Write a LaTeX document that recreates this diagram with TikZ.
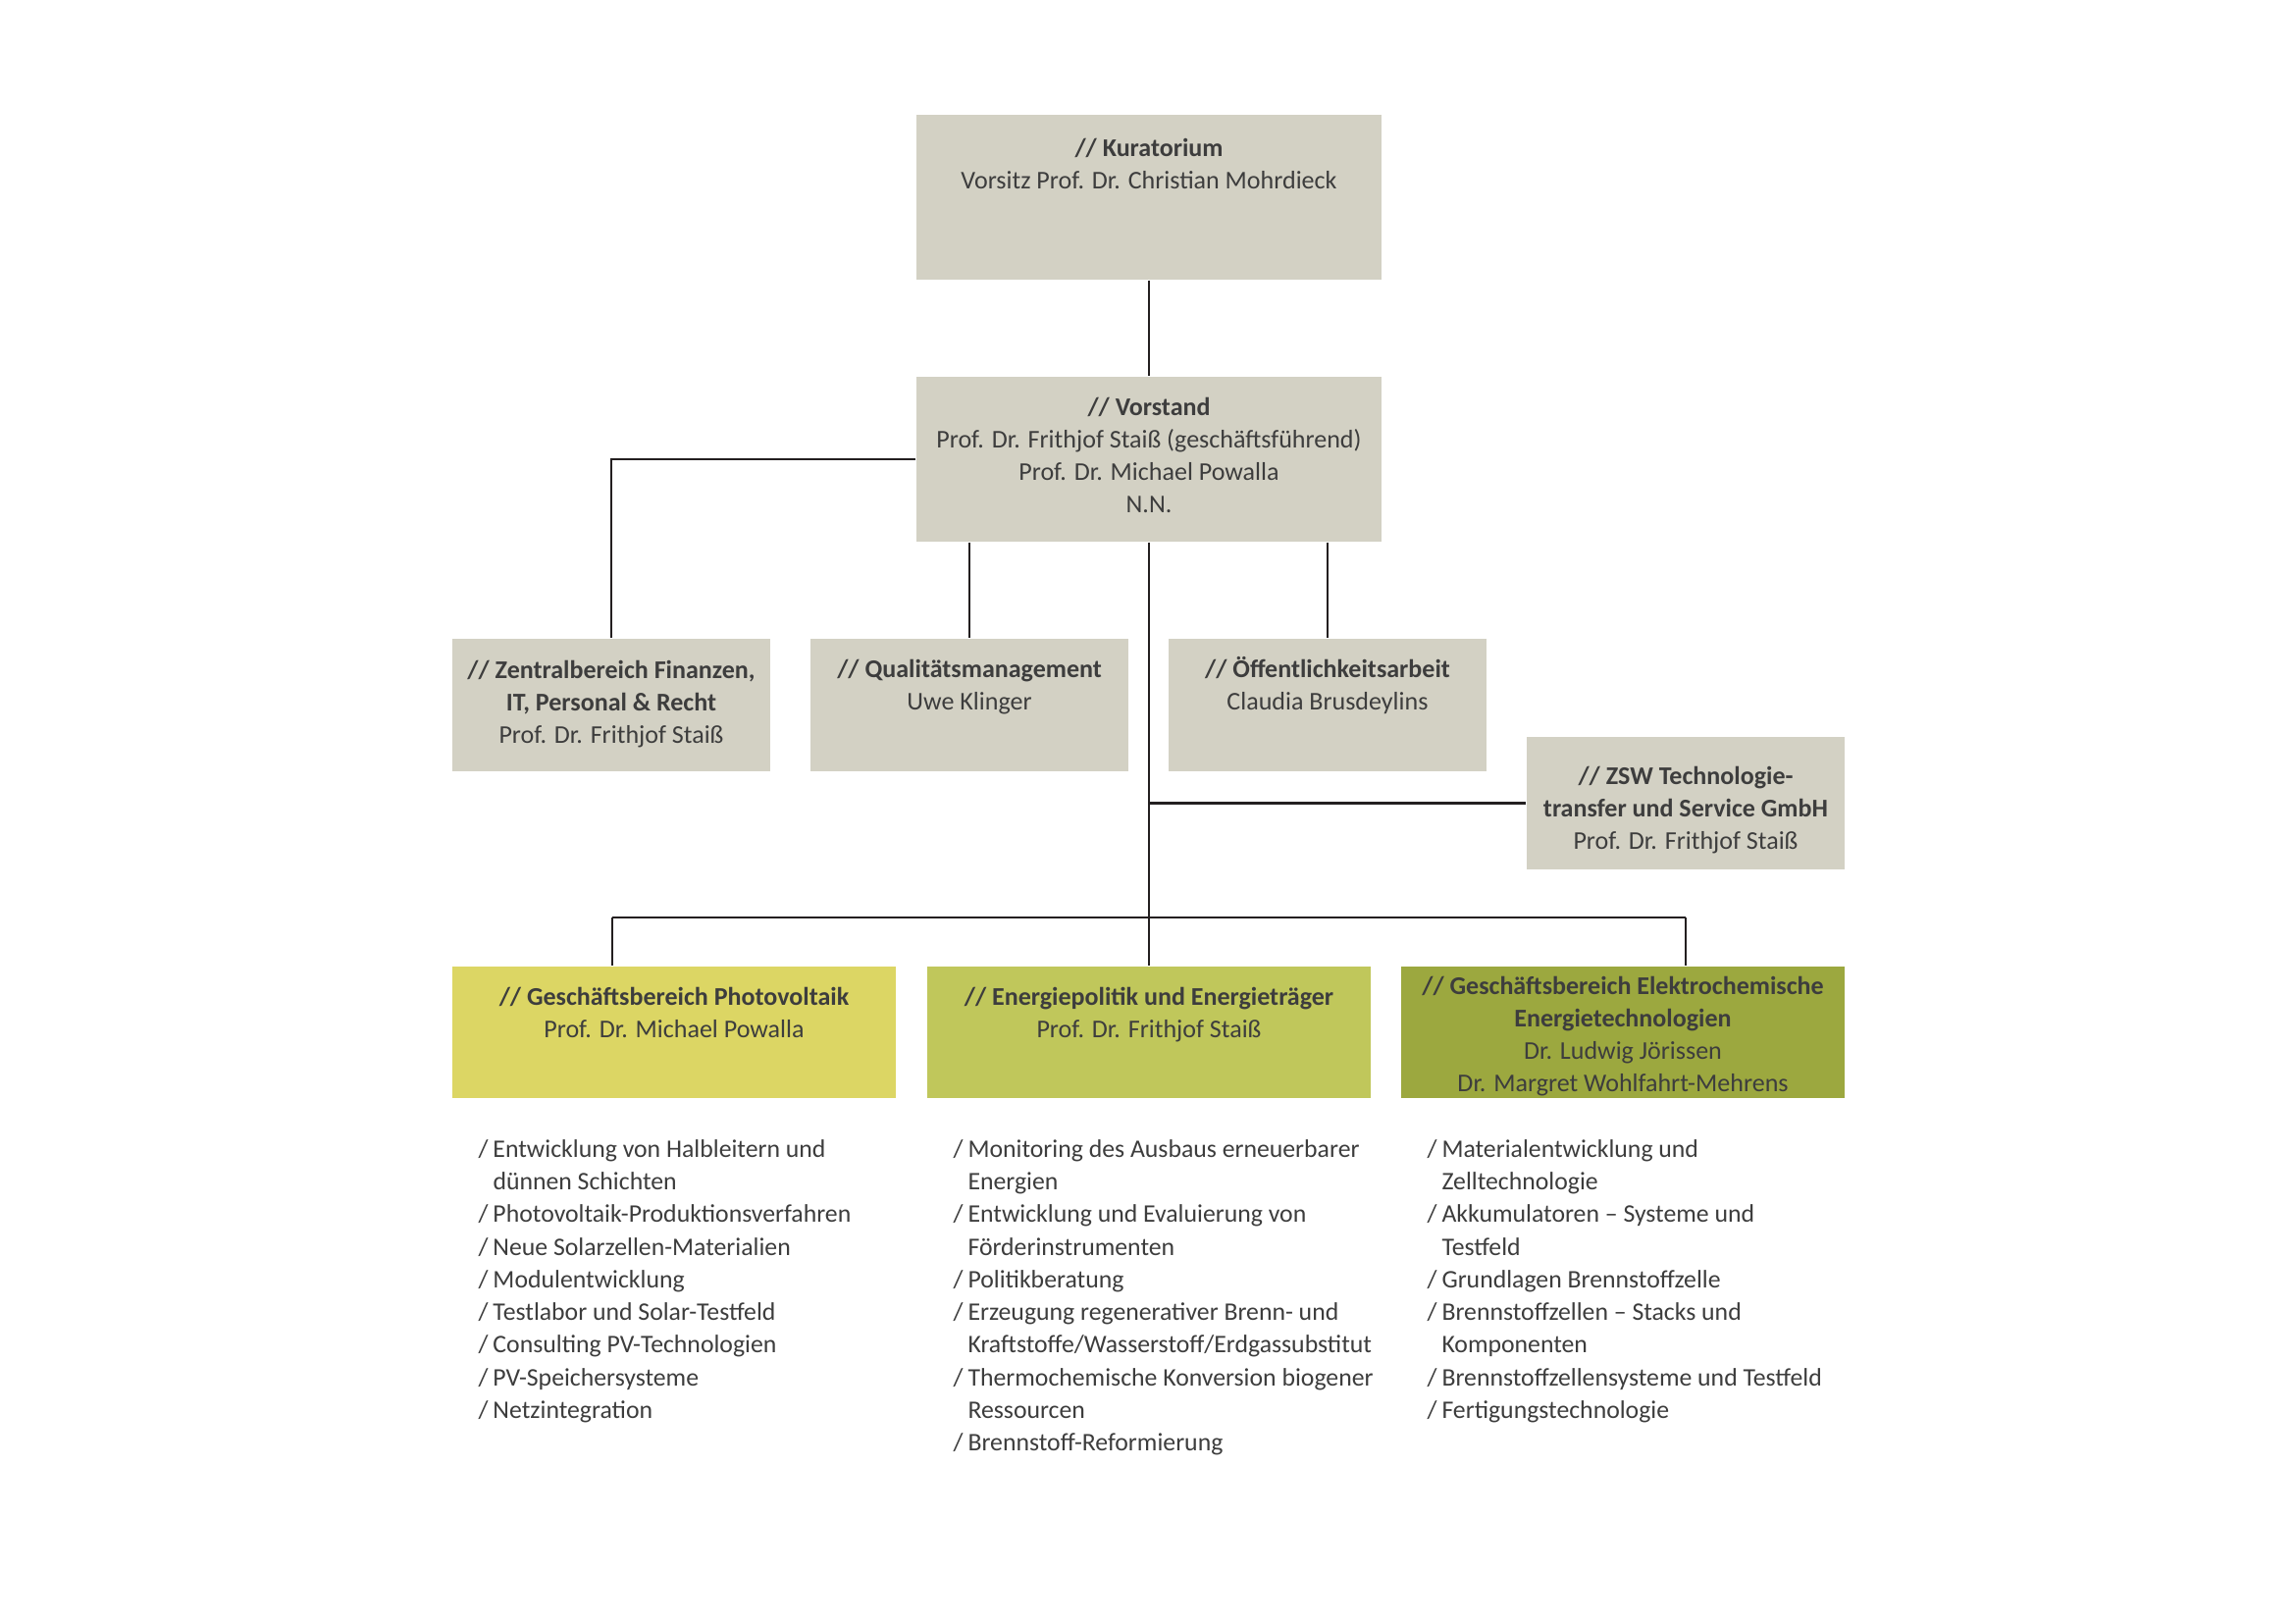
\documentclass[tikz,border=0pt]{standalone}
\usepackage{fontspec}
\setmainfont{Carlito}
\usetikzlibrary{fit}
\definecolor{boxgray}{HTML}{D3D1C4}
\definecolor{pvyellow}{HTML}{DCD664}
\definecolor{enegreen}{HTML}{C0C75B}
\definecolor{eleolive}{HTML}{9CA83F}
\definecolor{textgray}{HTML}{3D3D3D}
\definecolor{linecol}{HTML}{231F20}
\newcommand{\itm}{\makebox[5.4pt][l]{/}}
\newcommand{\ind}{\hspace*{5.4pt}}
\begin{document}
\begin{tikzpicture}[x=0.012698cm,y=-0.012698cm,
  box/.style={draw=none,inner sep=0pt,rectangle},
  txt/.style={inner sep=0pt,align=center,text=textgray,font=\fontsize{9.4}{12}\selectfont,anchor=north},
  lst/.style={inner sep=0pt,align=left,text=textgray,font=\fontsize{9.3}{12}\selectfont,anchor=north west},
  conn/.style={line width=0.8pt,draw=linecol}]
\useasboundingbox[fill=white] (0,0) rectangle (2339,1654);

% boxes
\node[box,fill=boxgray,fit={(934,117) (1408,285)}] (kur) {};
\node[box,fill=boxgray,fit={(934,384) (1408,552)}] (vor) {};
\node[box,fill=boxgray,fit={(461,651) (785,786)}] (zen) {};
\node[box,fill=boxgray,fit={(826,651) (1150,786)}] (qua) {};
\node[box,fill=boxgray,fit={(1191,651) (1515,786)}] (oef) {};
\node[box,fill=boxgray,fit={(1556,751) (1880,886)}] (zsw) {};
\node[box,fill=pvyellow,fit={(461,985) (913,1119)}] (pv) {};
\node[box,fill=enegreen,fit={(945,985) (1397,1119)}] (ene) {};
\node[box,fill=eleolive,fit={(1428,985) (1880,1119)}] (ele) {};

% box texts
\node[txt] (kurT) at (1171,135.5) {\strut\textbf{// Kuratorium}\\Vorsitz Prof. Dr. Christian Mohrdieck};
\node[txt] (vorT) at (1171,399.5) {\strut\textbf{// Vorstand}\\Prof. Dr. Frithjof Staiß (geschäftsführend)\\Prof. Dr. Michael Powalla\\N.N.};
\node[txt] (zenT) at (623,667.5) {\strut\textbf{// Zentralbereich Finanzen,}\\\textbf{IT, Personal \& Recht}\\Prof. Dr. Frithjof Staiß};
\node[txt] (quaT) at (988,666.5) {\strut\textbf{// Qualitätsmanagement}\\Uwe Klinger};
\node[txt] (oefT) at (1353,666.5) {\strut\textbf{// Öffentlichkeitsarbeit}\\Claudia Brusdeylins};
\node[txt] (zswT) at (1718,775.5) {\strut\textbf{// ZSW Technologie-}\\\textbf{transfer und Service GmbH}\\Prof. Dr. Frithjof Staiß};
\node[txt] (pvT) at (687,1000.5) {\strut\textbf{// Geschäftsbereich Photovoltaik}\\Prof. Dr. Michael Powalla};
\node[txt] (eneT) at (1171,1000.5) {\strut\textbf{// Energiepolitik und Energieträger}\\Prof. Dr. Frithjof Staiß};
\node[txt] (eleT) at (1654,989.5) {\strut\textbf{// Geschäftsbereich Elektrochemische}\\\textbf{Energietechnologien}\\Dr. Ludwig Jörissen\\Dr. Margret Wohlfahrt-Mehrens};

% lists
\node[lst] (pvL) at (487,1155.7) {\strut\itm Entwicklung von Halbleitern und\\
\ind dünnen Schichten\\
\itm Photovoltaik-Produktionsverfahren\\
\itm Neue Solarzellen-Materialien\\
\itm Modulentwicklung\\
\itm Testlabor und Solar-Testfeld\\
\itm Consulting PV-Technologien\\
\itm PV-Speichersysteme\\
\itm Netzintegration};
\node[lst] (eneL) at (971,1155.7) {\strut\itm Monitoring des Ausbaus erneuerbarer\\
\ind Energien\\
\itm Entwicklung und Evaluierung von\\
\ind Förderinstrumenten\\
\itm Politikberatung\\
\itm Erzeugung regenerativer Brenn- und\\
\ind Kraftstoffe/Wasserstoff/Erdgassubstitut\\
\itm Thermochemische Konversion biogener\\
\ind Ressourcen\\
\itm Brennstoff-Reformierung};
\node[lst] (eleL) at (1454,1155.7) {\strut\itm Materialentwicklung und\\
\ind Zelltechnologie\\
\itm Akkumulatoren – Systeme und\\
\ind Testfeld\\
\itm Grundlagen Brennstoffzelle\\
\itm Brennstoffzellen – Stacks und\\
\ind Komponenten\\
\itm Brennstoffzellensysteme und Testfeld\\
\itm Fertigungstechnologie};

% connectors
\coordinate (bus) at (1171,935);
\coordinate (busL) at (624,935);
\coordinate (busR) at (1718,935);
\draw[conn] (kur.south) -- (vor.north);
\draw[conn] (vor.west) -| (zen.north);
\draw[conn] (vor.south -| qua.north) -- (qua.north);
\draw[conn] (vor.south -| oef.north) -- (oef.north);
\draw[conn] (vor.south) -- (bus);
\draw[conn] (zsw.west) -- (zsw.west -| vor.south);
\draw[conn] (busL) -- (busR);
\draw[conn] (busL) -- (busL |- pv.north);
\draw[conn] (bus) -- (ene.north);
\draw[conn] (busR) -- (busR |- ele.north);
\end{tikzpicture}
\end{document}
